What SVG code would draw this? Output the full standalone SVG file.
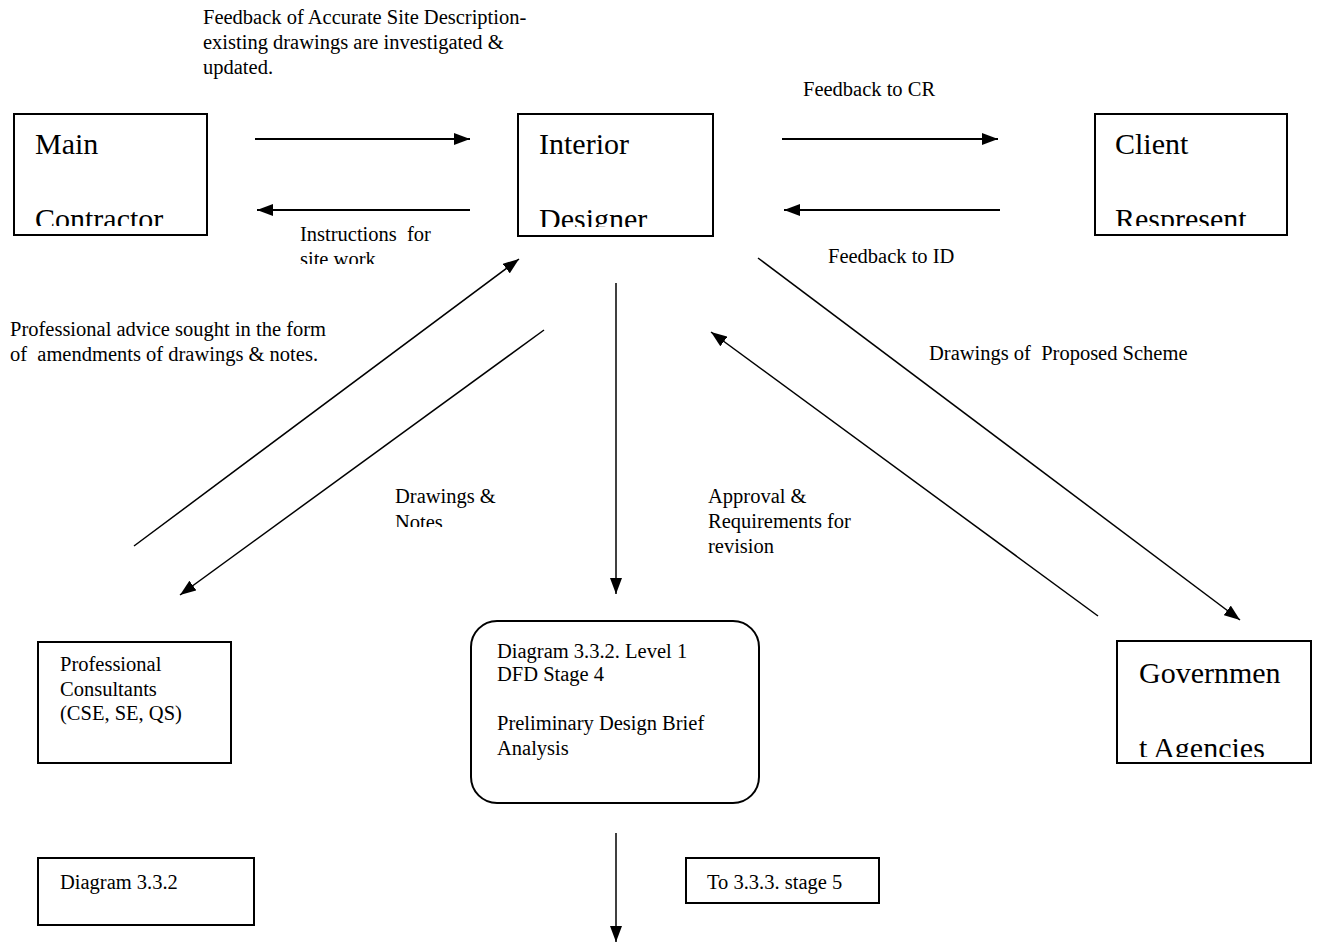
<svg xmlns="http://www.w3.org/2000/svg" width="1317" height="942" viewBox="0 0 1317 942">
<style>
.box{fill:#fff;stroke:#000;stroke-width:2}
.big{font-family:"Liberation Serif","Times New Roman",serif;font-size:30px;fill:#000}
.sm{font-family:"Liberation Serif","Times New Roman",serif;font-size:20.5px;fill:#000;white-space:pre}
.cn{stroke:#000;stroke-width:1.5;fill:none}
.hz{stroke:#000;stroke-width:2;fill:none}
</style>
<defs>
<marker id="a2" viewBox="0 0 16 12" refX="16" refY="6" markerWidth="16" markerHeight="12" markerUnits="userSpaceOnUse" orient="auto">
<path d="M0,0 L16,6 L0,12 Z" fill="#000"/>
</marker>
<clipPath id="cMC"><rect x="14" y="114" width="193" height="112"/></clipPath>
<clipPath id="cID"><rect x="518" y="114" width="195" height="113"/></clipPath>
<clipPath id="cCR"><rect x="1095" y="114" width="192" height="112"/></clipPath>
<clipPath id="cGA"><rect x="1117" y="641" width="194" height="116"/></clipPath>
<clipPath id="cIN"><rect x="290" y="220" width="200" height="44"/></clipPath>
<clipPath id="cDN"><rect x="385" y="480" width="200" height="47"/></clipPath>
</defs>

<g id="connectors">
<line class="hz" x1="255" y1="139" x2="470" y2="139" marker-end="url(#a2)"/>
<line class="hz" x1="470" y1="210" x2="257" y2="210" marker-end="url(#a2)"/>
<line class="hz" x1="782" y1="139" x2="998" y2="139" marker-end="url(#a2)"/>
<line class="hz" x1="1000" y1="210" x2="784" y2="210" marker-end="url(#a2)"/>
<line class="cn" x1="134" y1="546" x2="519" y2="259" marker-end="url(#a2)"/>
<line class="cn" x1="544" y1="330" x2="180" y2="595" marker-end="url(#a2)"/>
<line class="cn" x1="616" y1="283" x2="616" y2="594" marker-end="url(#a2)"/>
<line class="cn" x1="758" y1="258" x2="1240" y2="620" marker-end="url(#a2)"/>
<line class="cn" x1="1098" y1="616" x2="711" y2="332" marker-end="url(#a2)"/>
<line class="cn" x1="616" y1="833" x2="616" y2="942" marker-end="url(#a2)"/>
</g>

<g id="labels">
<text class="sm" x="203" y="24">Feedback of Accurate Site Description-</text>
<text class="sm" x="203" y="49">existing drawings are investigated &amp;</text>
<text class="sm" x="203" y="74">updated.</text>
<g clip-path="url(#cIN)">
<text class="sm" x="300" y="241">Instructions  for</text>
<text class="sm" x="300" y="266">site work</text>
</g>
<text class="sm" x="803" y="96">Feedback to CR</text>
<text class="sm" x="828" y="263">Feedback to ID</text>
<text class="sm" x="10" y="336">Professional advice sought in the form</text>
<text class="sm" x="10" y="361">of  amendments of drawings &amp; notes.</text>
<text class="sm" x="929" y="360">Drawings of  Proposed Scheme</text>
<g clip-path="url(#cDN)">
<text class="sm" x="395" y="503">Drawings &amp;</text>
<text class="sm" x="395" y="529">Notes</text>
</g>
<text class="sm" x="708" y="503">Approval &amp;</text>
<text class="sm" x="708" y="528">Requirements for</text>
<text class="sm" x="708" y="553">revision</text>
</g>

<g id="main-contractor">
<rect class="box" x="14" y="114" width="193" height="121"/>
<g clip-path="url(#cMC)">
<text class="big" x="35" y="154">Main</text>
<text class="big" x="35" y="229">Contractor</text>
</g>
</g>

<g id="interior-designer">
<rect class="box" x="518" y="114" width="195" height="122"/>
<g clip-path="url(#cID)">
<text class="big" x="539" y="154">Interior</text>
<text class="big" x="539" y="229">Designer</text>
</g>
</g>

<g id="client-representative">
<rect class="box" x="1095" y="114" width="192" height="121"/>
<g clip-path="url(#cCR)">
<text class="big" x="1115" y="154">Client</text>
<text class="big" x="1115" y="229">Respresent</text>
</g>
</g>

<g id="professional-consultants">
<rect class="box" x="38" y="642" width="193" height="121"/>
<text class="sm" x="60" y="671">Professional</text>
<text class="sm" x="60" y="696">Consultants</text>
<text class="sm" x="60" y="720">(CSE, SE, QS)</text>
</g>

<g id="process">
<rect class="box" x="471" y="621" width="288" height="182" rx="26"/>
<text class="sm" x="497" y="658">Diagram 3.3.2. Level 1</text>
<text class="sm" x="497" y="681">DFD Stage 4</text>
<text class="sm" x="497" y="730">Preliminary Design Brief</text>
<text class="sm" x="497" y="755">Analysis</text>
</g>

<g id="government-agencies">
<rect class="box" x="1117" y="641" width="194" height="122"/>
<g clip-path="url(#cGA)">
<text class="big" x="1139" y="683">Governmen</text>
<text class="big" x="1139" y="758">t Agencies</text>
</g>
</g>

<g id="diagram-label">
<rect class="box" x="38" y="858" width="216" height="67"/>
<text class="sm" x="60" y="889">Diagram 3.3.2</text>
</g>

<g id="next-stage">
<rect class="box" x="686" y="858" width="193" height="45"/>
<text class="sm" x="707" y="889">To 3.3.3. stage 5</text>
</g>
</svg>
